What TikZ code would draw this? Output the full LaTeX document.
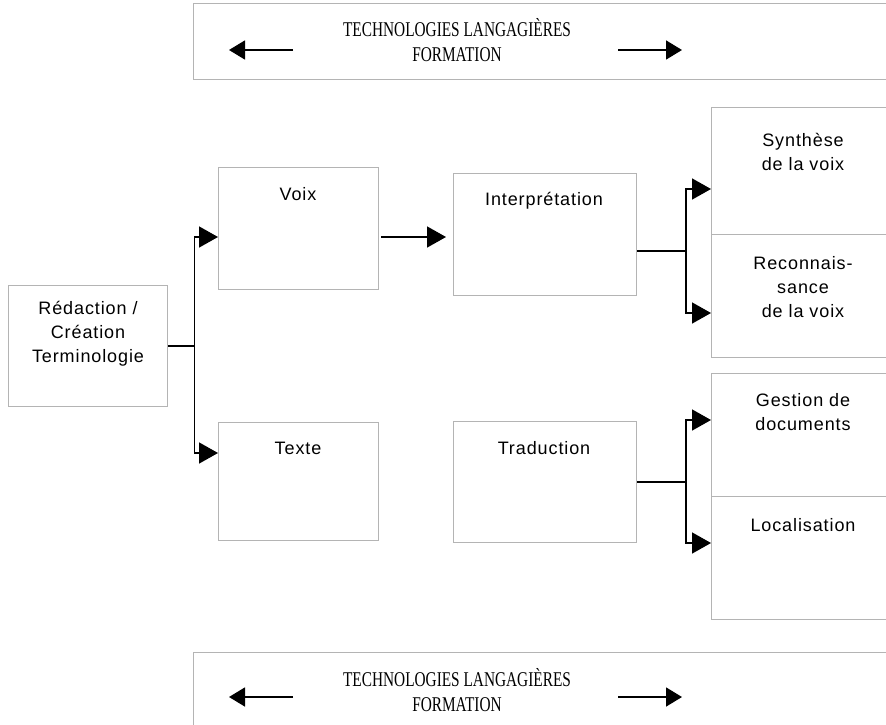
\documentclass[tikz,border=0pt]{standalone}
\usepackage{fontspec}
\setmainfont[LetterSpace=5]{Liberation Sans}
\newfontfamily\bannerfont[FakeStretch=0.73]{Liberation Serif}
\usetikzlibrary{arrows.meta}
\definecolor{boxgray}{HTML}{B4B4B4}
\begin{document}
\begin{tikzpicture}[x=1pt,y=-1pt,
  box/.style={draw=boxgray, line width=1.4pt, rectangle, anchor=north west, inner sep=0pt},
  txt/.style={align=center, inner sep=0pt, font=\fontsize{18}{24}\selectfont},
  btxt/.style={align=center, inner sep=0pt, font=\bannerfont\fontsize{21}{25}\selectfont},
  conn/.style={line width=1.6pt},
  arr/.style={line width=1.6pt, -{Triangle[length=19pt,width=21pt]}},
  barr/.style={line width=1.6pt, -{Triangle[length=16pt,width=19pt]}}]
\useasboundingbox (0,0) rectangle (886,725);
\fill[white] (0,0) rectangle (886,725);
\clip (0,0) rectangle (886,725);

% banners
\node[box, minimum width=710pt, minimum height=76pt] (topb) at (193,3) {};
\node[btxt] (topt) at (457,40) {TECHNOLOGIES LANGAGIÈRES\\FORMATION};
\coordinate (tl1) at (293,50); \coordinate (tl2) at (229,50);
\coordinate (tr1) at (618,50); \coordinate (tr2) at (682,50);
\draw[barr] (tl1) -- (tl2);
\draw[barr] (tr1) -- (tr2);

\node[box, minimum width=710pt, minimum height=90pt] (botb) at (193,652) {};
\node[btxt] (bott) at (457,690) {TECHNOLOGIES LANGAGIÈRES\\FORMATION};
\coordinate (bl1) at (293,697); \coordinate (bl2) at (229,697);
\coordinate (br1) at (618,697); \coordinate (br2) at (682,697);
\draw[barr] (bl1) -- (bl2);
\draw[barr] (br1) -- (br2);

% boxes
\node[box, minimum width=159pt, minimum height=121pt] (red) at (8,285) {};
\node[txt] (redt) at (88,334) {Rédaction /\\Création\\Terminologie};

\node[box, minimum width=160pt, minimum height=122pt] (voix) at (218,167) {};
\node[txt] (voixt) at (298,194) {Voix};

\node[box, minimum width=160pt, minimum height=118pt] (texte) at (218,422) {};
\node[txt] (textet) at (298,448) {Texte};

\node[box, minimum width=183pt, minimum height=122pt] (interp) at (453,173) {};
\node[txt] (interpt) at (544,201) {Interprétation};

\node[box, minimum width=183pt, minimum height=121pt] (trad) at (453,421) {};
\node[txt] (tradt) at (544,448) {Traduction};

\node[box, minimum width=200pt, minimum height=127pt] (synth) at (711,107) {};
\node[txt] (syntht) at (803,152) {Synthèse\\de la voix};

\node[box, minimum width=200pt, minimum height=123pt] (recon) at (711,234) {};
\node[txt] (recont) at (803,287) {Reconnais-\\sance\\de la voix};

\node[box, minimum width=200pt, minimum height=123pt] (gest) at (711,373) {};
\node[txt] (gestt) at (803,412) {Gestion de\\documents};

\node[box, minimum width=200pt, minimum height=123pt] (loc) at (711,496) {};
\node[txt] (loct) at (803,525) {Localisation};

% connectors
\coordinate (j1) at ([xshift=26pt]red.east);
\coordinate (v1) at (218,237);
\coordinate (t1) at (218,453);
\draw[conn] (red.east) -- (j1);
\draw[arr] (j1) |- (v1);
\draw[arr] (j1) |- (t1);

\coordinate (vo) at (381,237);
\coordinate (vi) at (446,237);
\draw[arr] (vo) -- (vi);

\coordinate (j2) at (686,251);
\coordinate (s1) at (711,189);
\coordinate (r1) at (711,313);
\draw[conn] (interp.east |- j2) -- (j2);
\draw[arr] (j2) |- (s1);
\draw[arr] (j2) |- (r1);

\coordinate (j3) at (686,482);
\coordinate (g1) at (711,420);
\coordinate (l1) at (711,543);
\draw[conn] (trad.east |- j3) -- (j3);
\draw[arr] (j3) |- (g1);
\draw[arr] (j3) |- (l1);
\end{tikzpicture}
\end{document}
